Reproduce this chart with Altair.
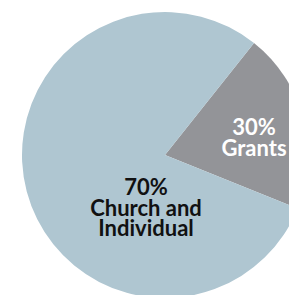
import math
import altair as alt
import pandas as pd

# Data
categories = ["Grants", "Church and Individual"]
label_pct = ["30%", "70%"]
label_name = ["Grants", "Church and\nIndividual"]
drawn_share = [20.4, 79.6]          # slice sizes as they are drawn
slice_colors = ["#939498", "#AFC6D1"]
text_colors = ["#FFFFFF", "#111111"]

df = pd.DataFrame({
    "category": categories,
    "share": drawn_share,
    "order": list(range(len(categories))),
    "label": [p + "\n" + n for p, n in zip(label_pct, label_name)],
})

CX, CY, R = 157, 147, 143
start = math.radians(38.5)

pie = alt.Chart(df).mark_arc(radius=R, stroke=None).encode(
    theta=alt.Theta("share:Q", stack=True,
                    scale=alt.Scale(range=[start, start + 2 * math.pi])),
    order=alt.Order("order:O"),
    color=alt.Color("category:N", legend=None,
                    scale=alt.Scale(domain=categories, range=slice_colors)),
    x=alt.value(CX),
    y=alt.value(CY),
)

def label_layer(cat, dx, dy, color):
    return alt.Chart(df).transform_filter(
        alt.datum.category == cat
    ).mark_text(
        lineBreak="\n", font="Lato", fontSize=22, fontWeight="bold",
        lineHeight=20.5, align="center", baseline="middle",
        color=color, dx=dx, dy=dy,
    ).encode(
        text="label:N",
        x=alt.value(CX),
        y=alt.value(CY),
    )

grants_label = label_layer(categories[0], 89, -27, text_colors[0])
church_label = label_layer(categories[1], -19, 33, text_colors[1])

chart = alt.layer(pie, grants_label, church_label).properties(
    width=281, height=287, padding=0, autosize="none", background="white"
).configure_view(stroke=None)

chart.save("out.html", embed_options={"renderer": "svg", "actions": False})
